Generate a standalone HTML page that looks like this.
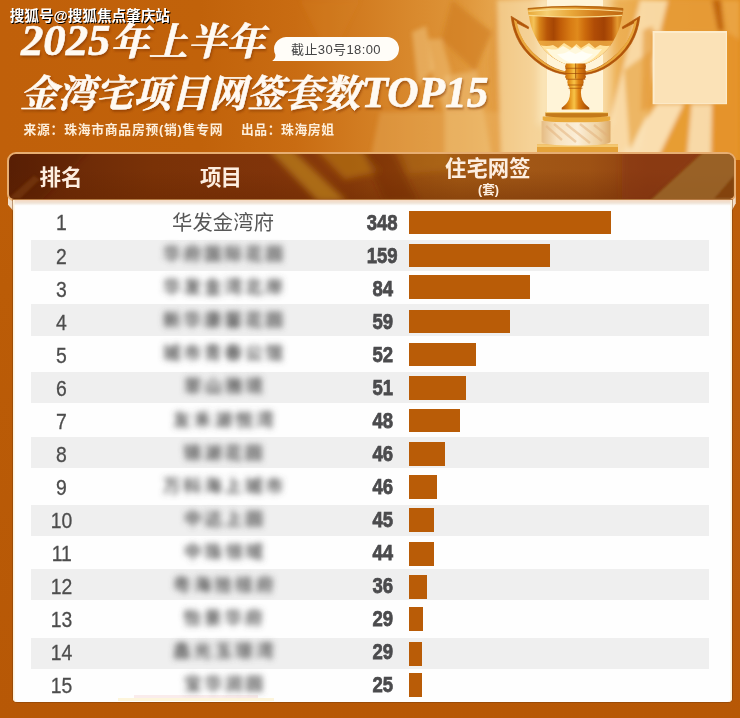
<!DOCTYPE html>
<html><head><meta charset="utf-8"><title>TOP15</title>
<style>
html,body{margin:0;padding:0}
body{width:740px;height:718px;overflow:hidden;position:relative;background:#b95b07;font-family:"Liberation Sans",sans-serif}
.abs{position:absolute}
#bg{position:absolute;left:0;top:0;width:740px;height:718px;background:linear-gradient(180deg,#c0600a 0,#bb5c07 40%,#b75806 100%)}
#banner{position:absolute;left:0;top:0}
#hdr{position:absolute;left:7px;top:152.4px;width:725px;height:44.6px;border:2px solid #e7ae72;border-radius:9px 9px 7px 7px;
 overflow:hidden;background:linear-gradient(180deg,rgba(100,36,0,0) 35%,rgba(100,36,0,.38) 100%),linear-gradient(90deg,#5a2006 0,#6c2a07 8%,#7a3207 20%,#80340a 36%,#8a3c0a 47%,#9a500f 55%,#a45a14 62%,#a25816 70%,#9e5214 80%,#8e4010 88%,#8c3e10 100%)}
#panel{position:absolute;left:13px;top:200px;width:718.8px;height:502px;background:linear-gradient(180deg,#f6d8c0 0,#efe4d8 3px,#fdfcfb 5.5px,#fefefe 6px);border-radius:0 0 4px 4px;box-shadow:0 0 0 1px rgba(120,60,10,.45),inset 1.5px 0 0 #fff1d8,inset -1.5px 0 0 #fff1d8}
.st{position:absolute;left:30.5px;width:678.5px;background:#efefef}
.rk{position:absolute;left:21.2px;width:80px;height:30px;line-height:30px;text-align:center;font-size:22.5px;color:#4c4c4c}
.rk span{display:inline-block;transform:scaleX(.86);-webkit-text-stroke:.3px #4c4c4c}
.vl{position:absolute;left:342.5px;width:80px;height:30px;line-height:30px;text-align:center;font-size:22.9px;font-weight:bold;color:#4b4b4d}
.vl span{display:inline-block;transform:scaleX(.81);-webkit-text-stroke:.75px #4b4b4d}
.br{position:absolute;left:409px;height:23.7px;background:#b95c07}
.ear{position:absolute;top:194px;height:17px;background:#f2dfca}
#pill{position:absolute;left:274px;top:37px;width:125px;height:24px;border-radius:12px;background:#fffaf2}
#txt{position:absolute;left:0;top:0}
#txt text{font-family:"Liberation Sans","Noto Sans CJK SC",sans-serif}
#txt .sf{font-family:"Liberation Serif","Noto Serif CJK SC",serif;font-weight:bold;font-style:italic}
#txt .pj{font-size:17.5px;font-weight:bold;fill:#555}
</style></head><body>
<div id="bg"></div>
<svg id="banner" width="740" height="160" viewBox="0 0 740 160">
<defs>
<linearGradient id="bgg" x1="0" x2="740" y1="0" y2="0" gradientUnits="userSpaceOnUse">
<stop offset="0" stop-color="#c0600a"/><stop offset=".27" stop-color="#c1620a"/><stop offset=".40" stop-color="#c96c12"/>
<stop offset=".54" stop-color="#d7862a"/><stop offset=".62" stop-color="#de9438"/><stop offset=".68" stop-color="#e8a850"/><stop offset=".72" stop-color="#f0bf78"/>
<stop offset=".78" stop-color="#f6d193"/><stop offset=".845" stop-color="#f0ba68"/><stop offset=".90" stop-color="#e59a30"/><stop offset="1" stop-color="#e08c1e"/>
</linearGradient>
<linearGradient id="cupg" x1="528" x2="623" y1="0" y2="0" gradientUnits="userSpaceOnUse">
<stop offset="0" stop-color="#e9a232"/><stop offset=".06" stop-color="#f4c258"/><stop offset=".12" stop-color="#d88418"/>
<stop offset=".20" stop-color="#b85608"/><stop offset=".27" stop-color="#a64604"/><stop offset=".34" stop-color="#c05c08"/>
<stop offset=".45" stop-color="#d87c14"/><stop offset=".52" stop-color="#e08a1c"/><stop offset=".60" stop-color="#cc6a0c"/>
<stop offset=".70" stop-color="#b04c06"/><stop offset=".80" stop-color="#a24204"/><stop offset=".88" stop-color="#bc5a0a"/>
<stop offset=".94" stop-color="#e49a30"/><stop offset="1" stop-color="#c87818"/>
</linearGradient>
<linearGradient id="stemg" x1="562" x2="589" y1="0" y2="0" gradientUnits="userSpaceOnUse">
<stop offset="0" stop-color="#b05206"/><stop offset=".25" stop-color="#e08a14"/><stop offset=".45" stop-color="#f8c448"/><stop offset=".62" stop-color="#dc7e10"/><stop offset=".85" stop-color="#b85a06"/><stop offset="1" stop-color="#9c4804"/>
</linearGradient>
<linearGradient id="marb" x1="543" x2="612" y1="0" y2="0" gradientUnits="userSpaceOnUse">
<stop offset="0" stop-color="#e7bf88"/><stop offset=".2" stop-color="#f7e2c0"/><stop offset=".5" stop-color="#fbeed8"/><stop offset=".8" stop-color="#efd2a2"/><stop offset="1" stop-color="#d9a562"/>
</linearGradient>
<radialGradient id="glow" cx="576" cy="54" r="30" gradientUnits="userSpaceOnUse" gradientTransform="translate(0,22) scale(1,.6)">
<stop offset="0" stop-color="#fffdf0" stop-opacity="1"/><stop offset=".55" stop-color="#fff0c0" stop-opacity=".85"/><stop offset="1" stop-color="#ffd070" stop-opacity="0"/>
</radialGradient>
<linearGradient id="hand" x1="0" x2="0" y1="14" y2="70" gradientUnits="userSpaceOnUse">
<stop offset="0" stop-color="#c87818"/><stop offset=".5" stop-color="#b85c0c"/><stop offset="1" stop-color="#d08a28"/>
</linearGradient>
<linearGradient id="rimg" x1="528" x2="623" y1="0" y2="0" gradientUnits="userSpaceOnUse">
<stop offset="0" stop-color="#e8a838"/><stop offset=".2" stop-color="#f6cf72"/><stop offset=".45" stop-color="#e9a83a"/><stop offset=".7" stop-color="#d4801e"/><stop offset="1" stop-color="#c06a12"/>
</linearGradient>
<filter id="b2"><feGaussianBlur stdDeviation="2"/></filter>
<filter id="b4"><feGaussianBlur stdDeviation="4"/></filter>
<filter id="b1"><feGaussianBlur stdDeviation=".7"/></filter>
</defs>
<rect width="740" height="160" fill="url(#bgg)"/>
<!-- facets left of trophy -->
<g filter="url(#b2)">
<polygon points="452,0 492,32 475,71 441.500,39" fill="#cf7c22" opacity=".6"/>
<polygon points="412,32 426,26 434,69 418,86" fill="#f8d494" opacity=".42"/>
<polygon points="428.600,39 441.500,39 451,71 444.700,114 431.800,73.400" fill="#f5cc88" opacity=".42"/>
<polygon points="444.700,75.500 477,71 492,160 444.700,160" fill="#f5d092" opacity=".4"/>
<polygon points="497,0 548,0 548,160 501,160" fill="#f9dfae" opacity=".6"/>
<polygon points="488,60 497,0 501,160 492,160" fill="#dc8c30" opacity=".3"/>
<polygon points="300,0 360,0 330,60" fill="#d88628" opacity=".2"/>
<polygon points="380,112 500,112 500,160 370,160" fill="#f0bc70" opacity=".3"/>
<!-- right side -->
<polygon points="604,0 740,0 740,160 604,160" fill="#e9a440" opacity=".55"/>
<polygon points="640,0 668,0 641,150 619,160 600,160" fill="#f9deae" opacity=".9"/>
<polygon points="668,0 712,0 724,32 652,32 652,70 640,110" fill="#e59a36" opacity=".8"/>
<polygon points="712,0 721,0 724,31 718,31" fill="#bf640e" opacity=".95"/>
<polygon points="722,0 740,0 740,40 727,32" fill="#eaa444" opacity=".9"/>
<polygon points="727,32 740,40 740,160 712,160 712,104 727,104" fill="#e4922a" opacity=".9"/>
<polygon points="657,104 684,104 657,160 618,160" fill="#fae2b6" opacity=".95"/>
<polygon points="684,104 692,104 687,160 657,160" fill="#e79c34" opacity=".9"/>
<polygon points="691.500,104 712,104 711,160 686.500,160" fill="#f8dcae" opacity=".95"/>
<polygon points="624,70 652,50 652,104 630,150" fill="#e8a848" opacity=".7"/>
<polygon points="643,30 653,26 653,106 641,112" fill="#e29634" opacity=".6"/>
</g>
<!-- light pillar -->
<rect x="547" y="-5" width="56" height="125" fill="#fff8e4" filter="url(#b1)"/>
<rect x="538" y="-5" width="74" height="130" fill="#fff2d0" filter="url(#b4)" opacity=".55"/>
<!-- plinth -->
<path d="M537 144.500h81v16h-81z" fill="#e5a238"/>
<path d="M537 144.500h81v2.500h-81z" fill="#f4c870"/>
<!-- marble base -->
<path d="M541.500 121v20.500q0 4 34.500 4t34.500 -4v-20.500z" fill="url(#marb)"/>
<path d="M546 126l16 14M554 124l22 18M566 124l24 19M580 124l22 17M594 125l14 11" stroke="#e2b07a" stroke-width="2.400" fill="none" opacity=".5" filter="url(#b1)"/>
<!-- rings under foot -->
<path d="M542.700 116.500h67.500v3.500q0 2.200 -33.750 2.200t-33.750 -2.200z" fill="#e9aa3c"/>
<path d="M545.400 112.300h62.600v3.400q0 1.800 -31.300 1.800t-31.300 -1.800z" fill="#c47a1a"/>
<path d="M545.400 112.600h62.600" stroke="#f6d078" stroke-width="1"/>
<!-- handles -->
<g id="hl">
<path d="M511.100 16.200l17.600 10.800l-0.400 1.800l-13 -6.600q2 10 8.500 20q8 11.500 21 20.500q10 7 22.600 9.600l-0.600 2.400q-14 -1.600 -25.500 -9.500q-14 -9.500 -21.600 -22q-7 -12 -8.600 -27z" fill="#b2560a" stroke="#b2560a" stroke-width=".7"/>
<path d="M513.800 19.500l3 2.300q1.600 10.500 8.200 21q8 12 21.500 21q9 6 20 8l-0.300 1q-12.500 -1.500 -23.300 -9q-13.500 -9 -20.800 -21q-6.300 -10.500 -8.300 -23.300z" fill="#eaa93e"/>
</g>
<use href="#hl" transform="translate(1151,0) scale(-1,1)"/>
<!-- cup -->
<path id="cupp" d="M527.800 9l1.200 6.600q0.600 5.500 2 10.400q1.600 5.300 4 10q2.600 5.300 6 10q3.600 4.700 8 8.500q4.200 3.500 9 6q3.800 2 8 3.500h19q4.200 -1.500 8 -3.500q4.800 -2.500 9 -6q4.400 -3.800 8 -8.500q3.400 -4.700 6 -10q2.400 -4.700 4 -10q1.400 -4.900 2 -10.400l1.200 -6.600z" fill="url(#cupg)"/>
<clipPath id="cupc"><use href="#cupp"/></clipPath>
<g clip-path="url(#cupc)">
<rect x="520" y="40.700" width="112" height="32" fill="#f0ae44" opacity=".82"/>
<path d="M539 45q8 2 14 0l5 3 6 -5 8 5 4.500 -4 4.500 4 8 -5 6 5 5 -3q6 2 14 0q-6 12 -20 19l-8 4h-19l-8 -4q-14 -7 -20 -19z" fill="#ffe29c" filter="url(#b1)"/>
<path d="M549 49q5 1 9 0l5 -3 7 4 5.500 -4 5.500 4 7 -4 5 3q4 1 9 0q-7 10 -17 14l-6 3h-10l-6 -3q-10 -4 -17 -14z" fill="#fff8dc" filter="url(#b1)"/>
<path d="M558 54q4 0 7 -1l4 -2 6.500 3 6.500 -3 4 2q3 1 7 1q-6 6 -12 8l-4 2h-4l-4 -2q-6 -2 -12 -8z" fill="#fffef6" filter="url(#b1)"/>
</g>
<!-- rim -->
<path d="M527.600 9.600q0 -3 47.900 -3t47.900 3l-1.200 5.600q-46.700 3.500 -93.400 0z" fill="url(#rimg)"/>
<path d="M527.800 8.800q47.700 -4.600 95.400 0" stroke="#b96a14" stroke-width="1.400" fill="none"/>
<path d="M528.400 11.300q47.100 -4 94.200 0" stroke="#fbe09a" stroke-width="1.100" fill="none"/>
<path d="M529 15.300q46.500 3.600 93 0" stroke="#f9d98c" stroke-width="1.300" fill="none"/>
<!-- stem -->
<path d="M566 63.600h19.300l0.700 3 -0.800 2.600 0.800 2.700 -0.800 2.600 0.800 2.600 -1.500 2.200h-1.200l0.400 3 -0.800 3 -1.400 2.300q-1.200 5.200 -0.200 9q1.200 6.600 8 11.200v1.800h-27.600v-1.800q6.800 -4.600 8 -11.200q1 -3.800 -0.200 -9l-1.400 -2.300 -0.800 -3 0.400 -3h-1.200l-1.500 -2.200 0.800 -2.600 -0.800 -2.600 0.800 -2.700 -0.800 -2.600z" fill="url(#stemg)"/>
<path d="M565.400 68.200h20.500M565.400 73.500h20.500M566 79.300h19.400M567.500 85h16M568.500 88.300h14" stroke="#a44c06" stroke-width="1.100" opacity=".7"/>
<path d="M575.600 63.600v15" stroke="#8a3c04" stroke-width="1.200" opacity=".55"/>
<!-- cream square -->
<rect x="652.600" y="31" width="74.400" height="73.200" fill="#fdeccb"/>
<rect x="654.600" y="33" width="71.200" height="70.200" fill="#fbe2b7"/>
</svg>

<div class="ear" style="left:7.8px;width:5.6px;clip-path:polygon(0 0,100% 0,100% 100%,0 62%)"></div><div class="ear" style="left:731.6px;width:4.2px;clip-path:polygon(0 0,100% 0,100% 55%,0 100%)"></div>
<div id="hdr"><svg width="725" height="45" viewBox="9 154.4 725 45" style="position:absolute;left:0;top:0">
<defs><filter id="hb"><feGaussianBlur stdDeviation="3"/></filter><filter id="hb1"><feGaussianBlur stdDeviation="1.2"/></filter></defs>
<g filter="url(#hb)">
<polygon points="268,150 292,150 347,202 318,202" fill="#be8220" opacity=".7"/>
<polygon points="316,150 360,150 380,172 345,180" fill="#bc7c14" opacity=".6"/>
<polygon points="362,150 392,150 418,202 384,202" fill="#6e2606" opacity=".45"/>
<polygon points="400,150 450,150 450,170 410,174" fill="#c08024" opacity=".3"/>
<polygon points="622,150 706,150 649,202 622,202" fill="#86360e" opacity=".55"/>
<polygon points="5,150 90,150 40,202 5,202" fill="#55200a" opacity=".35"/>
</g>
<g filter="url(#hb1)">
<polygon points="706,150 740,150 740,202 649,202" fill="#9b682a" opacity=".85"/>
<polygon points="8,199 34,176 40,180 20,199" fill="#9a5a1c" opacity=".3"/>
<polygon points="714,199 734,176 734,199" fill="#7c3608" opacity=".7"/>
</g>
</svg></div>
<div id="panel"></div>
<div style="position:absolute;left:134px;top:695.4px;width:124px;height:2.2px;background:#f5d2d2;opacity:.4;filter:blur(.7px)"></div><div style="position:absolute;left:118px;top:698.2px;width:156px;height:2.6px;background:#fdefc0;opacity:.55;filter:blur(.7px)"></div>
<div class="rk" style="top:208.4px"><span>1</span></div><div class="vl" style="top:206.5px"><span>348</span></div><div class="br" style="top:210.5px;width:202.3px"></div><div class="st" style="top:240.0px;height:31.4px"></div><div class="rk" style="top:241.5px"><span>2</span></div><div class="vl" style="top:239.6px"><span>159</span></div><div class="br" style="top:243.6px;width:140.9px"></div><div class="rk" style="top:274.5px"><span>3</span></div><div class="vl" style="top:272.6px"><span>84</span></div><div class="br" style="top:274.9px;width:120.6px"></div><div class="st" style="top:304.2px;height:31.7px"></div><div class="rk" style="top:307.5px"><span>4</span></div><div class="vl" style="top:305.6px"><span>59</span></div><div class="br" style="top:309.5px;width:101.1px"></div><div class="rk" style="top:340.6px"><span>5</span></div><div class="vl" style="top:338.7px"><span>52</span></div><div class="br" style="top:342.8px;width:67.2px"></div><div class="st" style="top:371.7px;height:31.8px"></div><div class="rk" style="top:373.6px"><span>6</span></div><div class="vl" style="top:371.8px"><span>51</span></div><div class="br" style="top:375.9px;width:57.2px"></div><div class="rk" style="top:406.7px"><span>7</span></div><div class="vl" style="top:404.8px"><span>48</span></div><div class="br" style="top:408.8px;width:50.6px"></div><div class="st" style="top:436.9px;height:30.9px"></div><div class="rk" style="top:439.7px"><span>8</span></div><div class="vl" style="top:437.8px"><span>46</span></div><div class="br" style="top:442.0px;width:35.8px"></div><div class="rk" style="top:472.8px"><span>9</span></div><div class="vl" style="top:470.9px"><span>46</span></div><div class="br" style="top:474.9px;width:28.4px"></div><div class="st" style="top:504.7px;height:31.8px"></div><div class="rk" style="top:505.9px"><span>10</span></div><div class="vl" style="top:504.0px"><span>45</span></div><div class="br" style="top:508.1px;width:25.1px"></div><div class="rk" style="top:538.9px"><span>11</span></div><div class="vl" style="top:537.0px"><span>44</span></div><div class="br" style="top:542.4px;width:25.1px"></div><div class="st" style="top:569.4px;height:30.9px"></div><div class="rk" style="top:571.9px"><span>12</span></div><div class="vl" style="top:570.0px"><span>36</span></div><div class="br" style="top:575.2px;width:18.1px"></div><div class="rk" style="top:605.0px"><span>13</span></div><div class="vl" style="top:603.1px"><span>29</span></div><div class="br" style="top:607.2px;width:14.0px"></div><div class="st" style="top:638.0px;height:30.9px"></div><div class="rk" style="top:638.0px"><span>14</span></div><div class="vl" style="top:636.1px"><span>29</span></div><div class="br" style="top:641.9px;width:12.8px"></div><div class="rk" style="top:671.1px"><span>15</span></div><div class="vl" style="top:669.2px"><span>25</span></div><div class="br" style="top:673.1px;width:12.8px"></div>
<svg id="txt" width="740" height="718" viewBox="0 0 740 718">

<defs>
<filter id="bl" x="-10%" y="-40%" width="120%" height="180%"><feGaussianBlur stdDeviation="3.0"/></filter>
<filter id="ts" x="-5%" y="-20%" width="110%" height="150%"><feDropShadow dx="1" dy="2" stdDeviation="1.2" flood-color="#7a3300" flood-opacity=".55"/></filter>
</defs>
<path d="M286 37.100H387A12 12 0 0 1 387 61.100H272.200Q276 58 275.300 54.500A12 12 0 0 1 286 37.100z" fill="#fffdf8"/>
<text x="291" y="54.300" font-size="13" fill="#444" textLength="89.500">截止30号18:00</text>
<text x="10.700" y="22" font-size="14.600" font-weight="bold" fill="#000">搜狐号@搜狐焦点肇庆站</text>
<text x="9.700" y="21" font-size="14.600" font-weight="bold" fill="#fff">搜狐号@搜狐焦点肇庆站</text>
<g filter="url(#ts)" stroke="#fffaf3" stroke-width=".6" stroke-linejoin="round">
<text class="sf" x="21" y="55" fill="#fffaf3" textLength="244" lengthAdjust="spacingAndGlyphs"><tspan font-size="44">2025</tspan><tspan font-size="38">年上半年</tspan></text>
<text class="sf" x="20" y="107" font-size="38" fill="#fffaf3" textLength="340" lengthAdjust="spacingAndGlyphs">金湾宅项目网签套数</text>
<text class="sf" x="361.500" y="107" font-size="44" fill="#fffaf3" textLength="127" lengthAdjust="spacingAndGlyphs">TOP15</text>
</g>
<text x="23.500" y="134" font-size="12.800" font-weight="bold" fill="#fdeeda" textLength="199">来源：珠海市商品房预(销)售专网</text>
<text x="241" y="134" font-size="12.800" font-weight="bold" fill="#fdeeda" textLength="93">出品：珠海房姐</text>
<text x="39.500" y="184.500" font-size="21.500" font-weight="bold" fill="#fdeee0" textLength="43">排名</text>
<text x="200" y="184.500" font-size="21.500" font-weight="bold" fill="#fdeee0" textLength="42">项目</text>
<text x="445" y="176.200" font-size="21.300" font-weight="bold" fill="#fdeee0" textLength="85.500">住宅网签</text>
<text x="478" y="194.300" font-size="12.600" font-weight="bold" fill="#fdeee0" textLength="21">(套)</text>
<text x="172" y="230" font-size="20.300" fill="#575757" textLength="102">华发金湾府</text>
<text class="pj" x="163" y="260.300" textLength="120" filter="url(#bl)">华府国际花园</text>
<text class="pj" x="163" y="293.200" textLength="120" filter="url(#bl)">华发金湾北岸</text>
<text class="pj" x="163" y="326.300" textLength="120" filter="url(#bl)">新华康馨花园</text>
<text class="pj" x="163" y="359.300" textLength="120" filter="url(#bl)">城市青春公馆</text>
<text class="pj" x="184" y="392.400" textLength="79" filter="url(#bl)">翠山雅境</text>
<text class="pj" x="173" y="425.500" textLength="100.500" filter="url(#bl)">友禾湖悦湾</text>
<text class="pj" x="183.500" y="458.500" textLength="79" filter="url(#bl)">锦湖花园</text>
<text class="pj" x="163" y="491.600" textLength="120" filter="url(#bl)">万科海上城市</text>
<text class="pj" x="184" y="524.500" textLength="79" filter="url(#bl)">中达上园</text>
<text class="pj" x="184" y="557.700" textLength="79" filter="url(#bl)">中珠领域</text>
<text class="pj" x="173" y="590.800" textLength="100.500" filter="url(#bl)">粤海拾桂府</text>
<text class="pj" x="183.500" y="623.800" textLength="79" filter="url(#bl)">怡景华府</text>
<text class="pj" x="173" y="656.800" textLength="100.500" filter="url(#bl)">鑫光玉璟湾</text>
<text class="pj" x="184" y="689.800" textLength="79" filter="url(#bl)">宝华润园</text>
</svg>
</body></html>
